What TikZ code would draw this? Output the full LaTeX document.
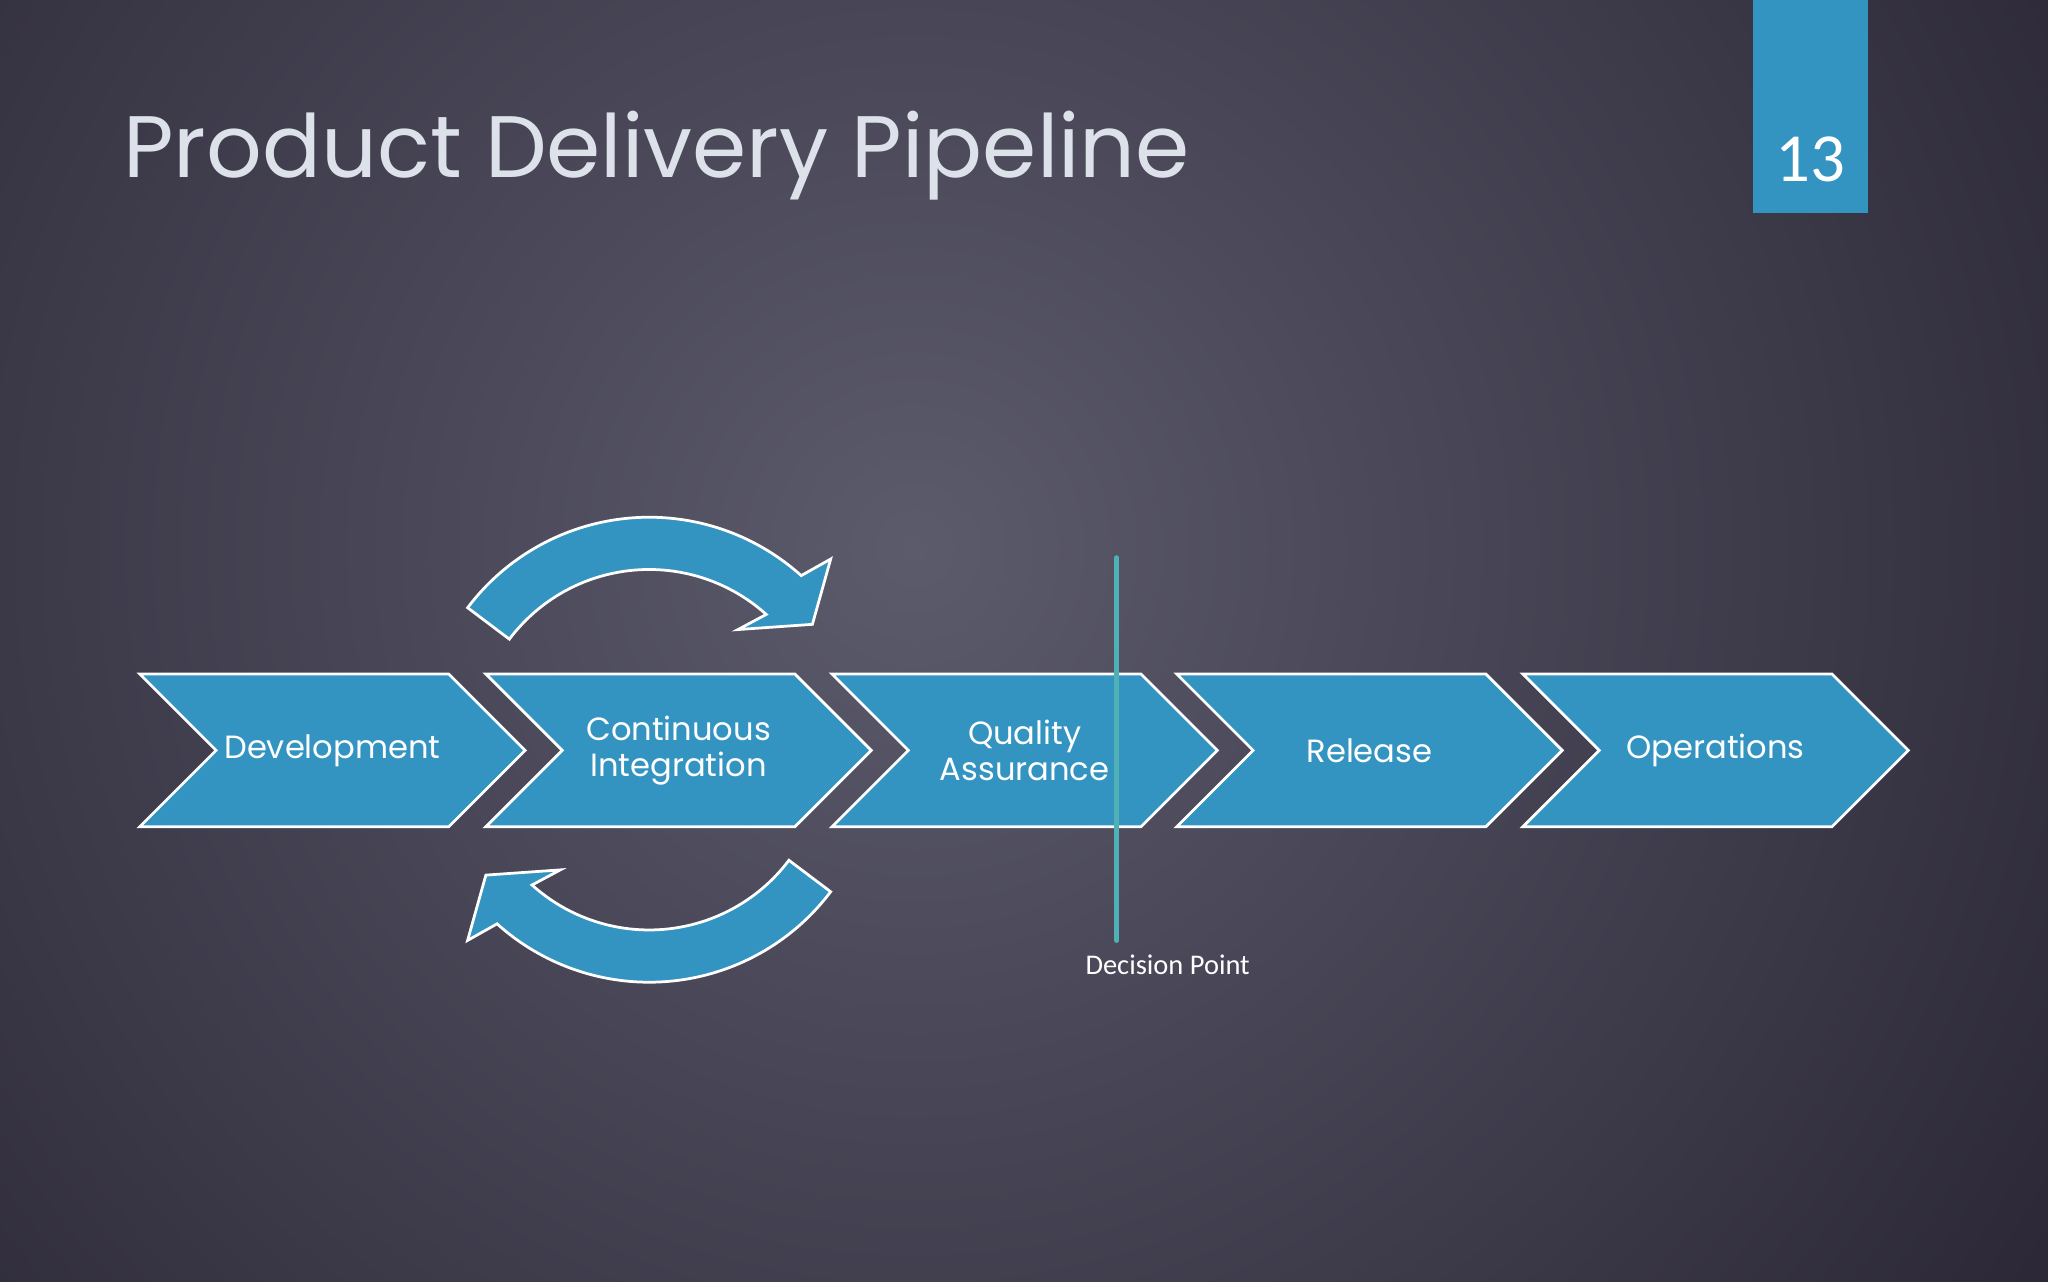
\documentclass[tikz,border=0pt]{standalone}
\usepackage{fontspec}
\setmainfont{Poppins}
\newfontfamily\numfont{Carlito}
\usetikzlibrary{shapes.symbols}
\definecolor{bgdark}{HTML}{2A2636}
\definecolor{bglight}{HTML}{5C5B6B}
\definecolor{stepblue}{HTML}{3394C2}
\definecolor{decline}{HTML}{4FB0B5}
\definecolor{titlecol}{HTML}{DDE2EA}
\begin{document}
\begin{tikzpicture}[x=0.01cm,y=-0.01cm,
  stage/.style={signal, signal to=east, signal from=west, signal pointer angle=90,
    fill=stepblue, draw=white, line width=0.6pt, minimum width=2.95cm, minimum height=1.17cm,
    inner sep=0pt, text=white, font=\fontsize{7}{7.8}\selectfont, align=center},
  loop/.style={fill=stepblue, draw=white, line width=0.6pt}]
\useasboundingbox (0,0) rectangle (1568,981);
\begin{scope}
\clip (0,0) rectangle (1568,981);
\fill[bgdark] (0,0) rectangle (1568,981);
\fill[inner color=bglight, outer color=bgdark] (700,420) circle (1060);
\end{scope}
% title and slide number
\node[anchor=base west, text=titlecol, font=\fontsize{19}{21}\selectfont] (title) at (82,136) {Product Delivery Pipeline};
\fill[stepblue] (1342,0) rectangle (1430,163);
\node[text=white, font=\numfont\fontsize{15}{16}\selectfont] (num) at (1386,122) {13};
% pipeline steps
\node[stage] (dev) at (254.5,574.5) {Development};
\node[stage] (ci)  at (519.5,574.5) {Continuous\\Integration};
\node[stage] (qa)  at (784.5,574.5) {Quality\\Assurance};
\node[stage] (rel) at (1048.5,574.5) {Release};
\node[stage] (ops) at (1313.5,574.5) {Operations};
% loop arrows
\draw[loop] ([shift={(497,570)}]217:174) arc[start angle=217, end angle=312, radius=174]
  -- (636,428) -- (622,478) -- (565,482) -- ([shift={(497,570)}]312:134)
  arc[start angle=312, end angle=217, radius=134] -- cycle;
\draw[loop] ([shift={(497,578)}]37:174) arc[start angle=37, end angle=132, radius=174]
  -- (358,720) -- (372,670) -- (429,666) -- ([shift={(497,578)}]132:134)
  arc[start angle=132, end angle=37, radius=134] -- cycle;
% decision point
\coordinate (dtop) at (855,427);
\coordinate (dbot) at (855,720);
\draw[decline, line width=1.1pt, line cap=round] (dtop) -- (dbot);
\node[text=white, font=\numfont\fontsize{6.2}{7}\selectfont] (dlab) at (894,739) {Decision Point};
\end{tikzpicture}
\end{document}
